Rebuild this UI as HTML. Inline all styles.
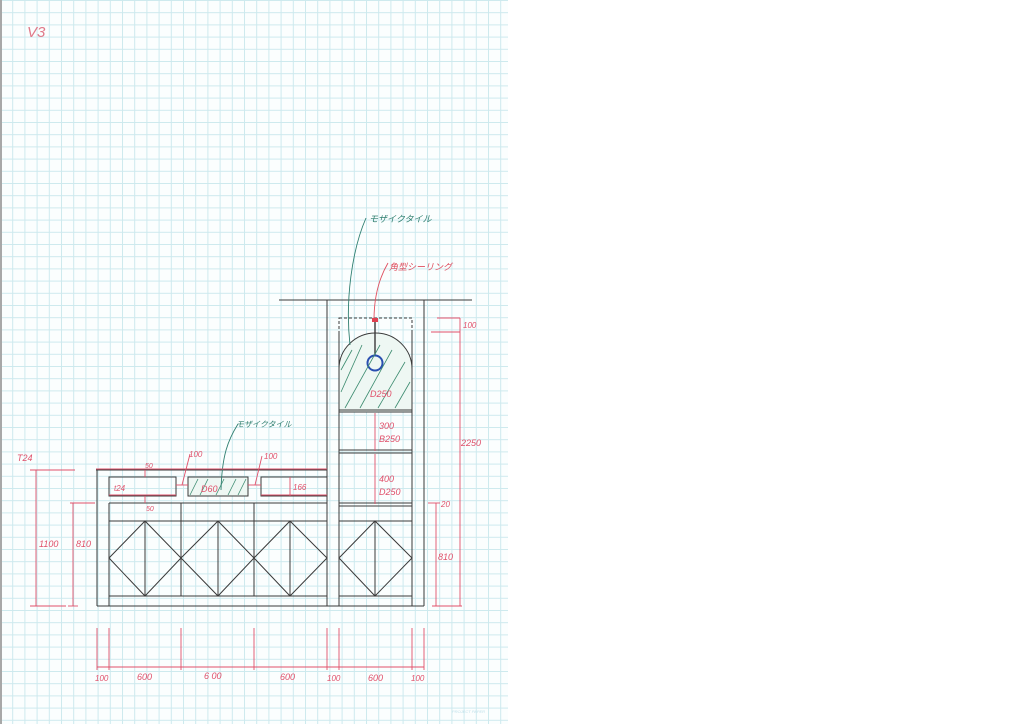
<!DOCTYPE html>
<html><head><meta charset="utf-8"><style>
html,body{margin:0;padding:0;background:#fff;}
svg{display:block}
text{font-family:"Liberation Sans","Noto Sans CJK JP",sans-serif;font-style:italic}
</style></head><body>
<svg width="1024" height="724" viewBox="0 0 1024 724" xmlns="http://www.w3.org/2000/svg">
<defs>
<pattern id="g" x="0" y="0" width="12.2" height="12.2" patternUnits="userSpaceOnUse">
<path d="M0.5 0V12.2M0 0.5H12.2" stroke="#cde9ee" stroke-width="1"/>
</pattern>
</defs>
<rect x="0" y="0" width="1024" height="724" fill="#fff"/>
<rect x="2" y="0" width="506" height="724" fill="#fbfefe"/>
<rect x="2" y="0" width="506" height="724" fill="url(#g)"/>
<rect x="0" y="0" width="2" height="724" fill="#a8a8a8"/>
<text x="27" y="37" fill="#e07a8a" font-size="15">V3</text>

<g stroke="#3a3a3a" stroke-width="1" fill="none">
<line x1="279" y1="300" x2="472" y2="300"/>
<line x1="327" y1="300" x2="327" y2="606"/>
<line x1="339" y1="332" x2="339" y2="606"/>
<line x1="412" y1="332" x2="412" y2="606"/>
<line x1="424" y1="300" x2="424" y2="606"/>
<rect x="339" y="318" width="73" height="50" stroke-dasharray="3,2"/>
<path d="M339 412V369A36.5 36 0 0 1 412 369V412Z" fill="#eef7f3"/>
<line x1="339" y1="410" x2="412" y2="410"/>
<line x1="339" y1="450" x2="412" y2="450"/>
<line x1="339" y1="453" x2="412" y2="453"/>
<line x1="339" y1="503" x2="412" y2="503"/>
<line x1="339" y1="506" x2="412" y2="506"/>
<line x1="339" y1="521" x2="412" y2="521"/>
<line x1="339" y1="596" x2="412" y2="596"/>
<line x1="375" y1="322" x2="375" y2="356" stroke-width="1.4"/>
<path d="M339 558L375 521L412 558L375 596Z M375 521V596"/>
<line x1="96" y1="470" x2="327" y2="470"/>
<line x1="97" y1="470" x2="97" y2="606"/>
<line x1="109" y1="503" x2="109" y2="606"/>
<rect x="109" y="477" width="67" height="19"/>
<rect x="188" y="477" width="60" height="19" fill="#eef7f3"/>
<rect x="261" y="477" width="66" height="19"/>
<line x1="109" y1="503" x2="327" y2="503"/>
<line x1="109" y1="521" x2="327" y2="521"/>
<line x1="109" y1="596" x2="327" y2="596"/>
<line x1="97" y1="606" x2="424" y2="606"/>
<line x1="181" y1="503" x2="181" y2="596"/>
<line x1="254" y1="503" x2="254" y2="596"/>
<path d="M109 558L145 521L181 558L145 596Z M145 521V596"/>
<path d="M181 558L218 521L254 558L218 596Z M218 521V596"/>
<path d="M254 558L290 521L327 558L290 596Z M290 521V596"/>
</g>
<circle cx="375" cy="363" r="7.5" fill="none" stroke="#2a4fb0" stroke-width="2"/>
<g stroke="#3a8a6e" stroke-width="0.8">
<line x1="341" y1="370" x2="352" y2="350"/><line x1="341" y1="392" x2="362" y2="345"/>
<line x1="345" y1="408" x2="380" y2="345"/><line x1="360" y1="408" x2="392" y2="350"/>
<line x1="378" y1="408" x2="405" y2="362"/><line x1="395" y1="408" x2="410" y2="382"/>
<line x1="190" y1="495" x2="198" y2="479"/><line x1="200" y1="495" x2="208" y2="479"/>
<line x1="216" y1="495" x2="224" y2="479"/><line x1="228" y1="495" x2="236" y2="479"/>
<line x1="238" y1="495" x2="246" y2="479"/>
</g>
<g fill="none" stroke="#2f7f70" stroke-width="0.9">
<path d="M366 218C352 250 345 300 350 345"/>
<path d="M238 424C228 440 222 455 221 490"/>
</g>
<path d="M388 263C378 280 374 300 374 320" fill="none" stroke="#e05060" stroke-width="0.9"/>
<rect x="372" y="318" width="6" height="4" fill="#e04050"/>
<text x="369" y="222" fill="#2f7f70" font-size="9">モザイクタイル</text>
<text x="389" y="270" fill="#e05060" font-size="9">角型シーリング</text>
<text x="236" y="427" fill="#2f7f70" font-size="8">モザイクタイル</text>

<g stroke="#e0506a" stroke-width="0.9" fill="none">
<line x1="30" y1="470" x2="75" y2="470"/>
<line x1="36" y1="470" x2="36" y2="606"/><line x1="30" y1="606" x2="66" y2="606"/>
<line x1="70" y1="503" x2="95" y2="503"/>
<line x1="73" y1="503" x2="73" y2="606"/><line x1="68" y1="606" x2="78" y2="606"/>
<line x1="96" y1="469" x2="327" y2="469"/>
<line x1="109" y1="495" x2="176" y2="495"/><line x1="261" y1="495" x2="327" y2="495"/>
<line x1="145" y1="470" x2="145" y2="477"/><line x1="145" y1="496" x2="145" y2="503"/>
<line x1="176" y1="485" x2="188" y2="485"/><line x1="248" y1="485" x2="261" y2="485"/>
<path d="M182 485L190 454M255 485L262 456"/>
<line x1="290" y1="477" x2="290" y2="496"/>
<line x1="375" y1="413" x2="375" y2="451"/><line x1="375" y1="454" x2="375" y2="504"/>
<line x1="437" y1="318" x2="460" y2="318"/><line x1="431" y1="332" x2="460" y2="332"/>
<line x1="460" y1="318" x2="460" y2="606"/>
<line x1="428" y1="503" x2="440" y2="503"/>
<line x1="436" y1="503" x2="436" y2="606"/><line x1="432" y1="606" x2="462" y2="606"/>
<line x1="97" y1="628" x2="97" y2="670"/><line x1="109" y1="628" x2="109" y2="670"/>
<line x1="181" y1="628" x2="181" y2="670"/><line x1="254" y1="628" x2="254" y2="670"/>
<line x1="327" y1="628" x2="327" y2="670"/><line x1="339" y1="628" x2="339" y2="670"/>
<line x1="412" y1="628" x2="412" y2="670"/><line x1="424" y1="628" x2="424" y2="670"/>
<line x1="97" y1="667" x2="424" y2="667"/>
</g>
<g fill="#e0506a" font-size="9">
<text x="17" y="461">T24</text>
<text x="39" y="547">1100</text>
<text x="76" y="547" font-style="normal">810</text>
<text x="145" y="468" font-size="7">50</text>
<text x="146" y="511" font-size="7">50</text>
<text x="189" y="457" font-size="8">100</text>
<text x="264" y="459" font-size="8">100</text>
<text x="114" y="491" font-size="8">t24</text>
<text x="201" y="492">D60</text>
<text x="293" y="490" font-size="8">166</text>
<text x="370" y="397">D250</text>
<text x="379" y="429">300</text>
<text x="379" y="442">B250</text>
<text x="379" y="482">400</text>
<text x="379" y="495">D250</text>
<text x="463" y="328" font-size="8">100</text>
<text x="461" y="446">2250</text>
<text x="441" y="507" font-size="8">20</text>
<text x="438" y="560" font-style="normal">810</text>
<text x="95" y="681" font-size="8">100</text>
<text x="137" y="680">600</text>
<text x="204" y="679">6 00</text>
<text x="280" y="680">600</text>
<text x="327" y="681" font-size="8">100</text>
<text x="368" y="681">600</text>
<text x="411" y="681" font-size="8">100</text>
</g>
<text x="452" y="713" fill="#bfe0ea" font-size="4" font-style="normal">PROJECT PAPER</text>
</svg>
</body></html>
